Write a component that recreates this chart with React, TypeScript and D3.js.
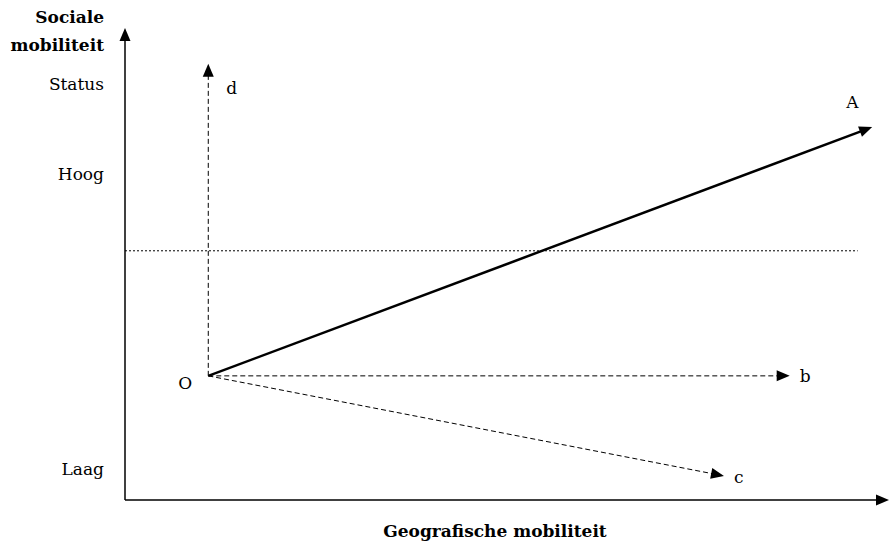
import React from "react";
import * as d3 from "d3";

const W = 889, H = 542;
const origin = { x: 10.9, y: 26.3 };
const vectorNames = ["A", "b", "c", "d"];
const vectorX = [97.8, 87.0, 78.4, 10.9];
const vectorY = [79.0, 26.3, 5.1, 92.4];
const vectorDashed = [false, true, true, true];
const levelLabels = ["Status", "Hoog", "Laag"];
const levelValues = [88.1, 69.1, 6.6];
const thresholdY = 52.8;
const thresholdXEnd = 95.9;

const FONT = "'DejaVu Serif', serif";
const FS = 17;

export default function App() {
  const x = d3.scaleLinear().domain([0, 100]).range([125, 889]);
  const y = d3.scaleLinear().domain([0, 100]).range([500, 28]);
  const ox = x(origin.x), oy = y(origin.y);

  const head = (x1: number, y1: number, x2: number, y2: number, len = 13, w = 5.5) => {
    const a = Math.atan2(y2 - y1, x2 - x1);
    const bx = x2 - len * Math.cos(a), by = y2 - len * Math.sin(a);
    const px = -Math.sin(a) * w, py = Math.cos(a) * w;
    return `M${x2},${y2}L${bx + px},${by + py}L${bx - px},${by - py}Z`;
  };
  const shorten = (x1: number, y1: number, x2: number, y2: number, d = 10) => {
    const a = Math.atan2(y2 - y1, x2 - x1);
    return [x2 - d * Math.cos(a), y2 - d * Math.sin(a)];
  };

  const labelOffsets: Record<string, [number, number]> = {
    A: [-26, -25], b: [10, 0], c: [10, 1], d: [18, 24],
  };

  return (
    <svg width={W} height={H} style={{ position: "absolute", left: 0, top: 0 }}>
      <rect width={W} height={H} fill="#fff" />
      <line x1={x(0)} y1={y(0)} x2={x(0)} y2={y(100) + 10} stroke="#000" strokeWidth={1.5} />
      <path d={head(x(0), y(0), x(0), y(100))} fill="#000" />
      <line x1={x(0)} y1={y(0)} x2={x(100) - 10} y2={y(0)} stroke="#000" strokeWidth={1.5} />
      <path d={head(x(0), y(0), x(100), y(0))} fill="#000" />
      <line x1={x(0)} y1={y(thresholdY)} x2={x(thresholdXEnd)} y2={y(thresholdY)}
        stroke="#000" strokeWidth={1} strokeDasharray="2,2" />
      {vectorNames.map((n, i) => {
        const tx = x(vectorX[i]), ty = y(vectorY[i]);
        const [ex, ey] = shorten(ox, oy, tx, ty);
        const off = labelOffsets[n];
        return (
          <g key={n}>
            <line x1={ox} y1={oy} x2={ex} y2={ey} stroke="#000"
              strokeWidth={vectorDashed[i] ? 1 : 2.5}
              strokeDasharray={vectorDashed[i] ? "5,3" : undefined} />
            <path d={head(ox, oy, tx, ty)} fill="#000" />
            <text x={tx + off[0]} y={ty + off[1]} dy="0.35em" fontFamily={FONT}
              fontSize={FS} textAnchor="start">{n}</text>
          </g>
        );
      })}
      <text x={ox - 16} y={oy + 7} dy="0.35em" fontFamily={FONT} fontSize={FS} textAnchor="end">O</text>
      {levelLabels.map((l, i) => (
        <text key={l} x={104} y={y(levelValues[i])} dy="0.35em" fontFamily={FONT}
          fontSize={FS} textAnchor="end">{l}</text>
      ))}
      <text x={104} y={23} fontFamily={FONT} fontSize={FS} fontWeight="bold" textAnchor="end">Sociale</text>
      <text x={104} y={51} fontFamily={FONT} fontSize={FS} fontWeight="bold" textAnchor="end">mobiliteit</text>
      <text x={495} y={537} fontFamily={FONT} fontSize={FS} fontWeight="bold" textAnchor="middle">Geografische mobiliteit</text>
    </svg>
  );
}
